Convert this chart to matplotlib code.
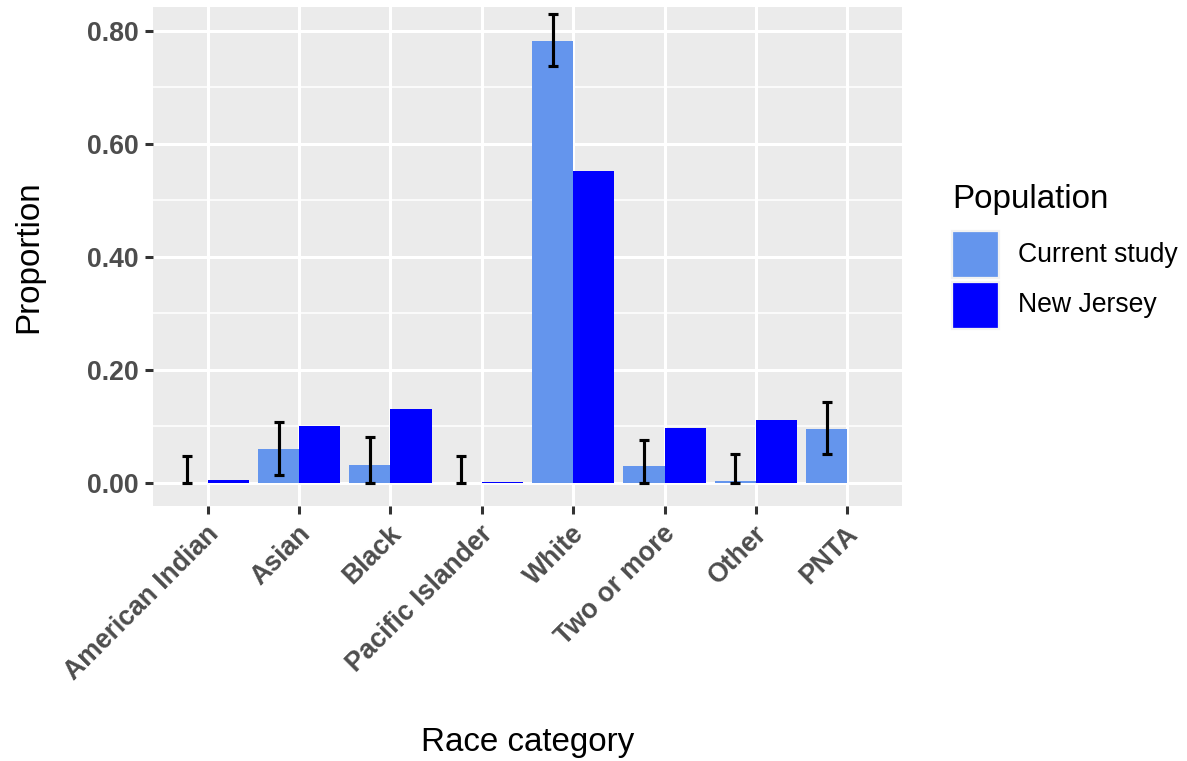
import numpy as np
import matplotlib
matplotlib.use('Agg')
import matplotlib.pyplot as plt
import matplotlib.transforms as mtransforms
from matplotlib.patches import Rectangle
from matplotlib.ticker import FixedLocator, FormatStrFormatter

# proportions by race category
categories = ['American Indian', 'Asian', 'Black', 'Pacific Islander',
              'White', 'Two or more', 'Other', 'PNTA']
study_prop = [0.0, 0.060, 0.032, 0.0, 0.782, 0.029, 0.004, 0.095]
study_lower = [0.0, 0.014, 0.0, 0.0, 0.737, 0.0, 0.0, 0.051]
study_upper = [0.047, 0.108, 0.081, 0.047, 0.829, 0.076, 0.051, 0.143]
nj_prop = [0.005, 0.101, 0.130, 0.001, 0.551, 0.097, 0.112, np.nan]

series_names = ['Current study', 'New Jersey']
series_colors = ['#6495ED', '#0000FF']

W, H, DPI = 1187, 761, 204
plt.rcParams['font.family'] = ['Liberation Sans', 'DejaVu Sans']
TICK_FS, TITLE_FS = 9.4, 11.7


def fx(px):
    return px / W


def fy(py):
    return 1 - py / H


fig = plt.figure(figsize=(W / DPI, H / DPI), dpi=DPI)
ax = fig.add_axes([fx(153), fy(506), fx(902 - 153), (506 - 7) / H])
ax.set_facecolor('#EBEBEB')
for s in ax.spines.values():
    s.set_visible(False)

x = np.arange(1, len(categories) + 1)
bw = 0.45
ax.bar(x - bw / 2, study_prop, width=bw, color=series_colors[0], zorder=3)
ax.bar(x + bw / 2, nj_prop, width=bw, color=series_colors[1], zorder=3)

sp = np.array(study_prop)
yerr = [sp - np.array(study_lower), np.array(study_upper) - sp]
ax.errorbar(x - bw / 2, sp, yerr=yerr, fmt='none', ecolor='black',
            elinewidth=1.1, capsize=1.6, capthick=1.1, zorder=4)

ax.set_xlim(0.4, 8.6)
ax.set_ylim(-0.041, 0.842)

ax.yaxis.set_major_locator(FixedLocator([0, 0.2, 0.4, 0.6, 0.8]))
ax.yaxis.set_minor_locator(FixedLocator([0.1, 0.3, 0.5, 0.7]))
ax.yaxis.set_major_formatter(FormatStrFormatter('%.2f'))
ax.set_xticks(x)
ax.set_xticklabels(categories, rotation=45, ha='right', va='center',
                   rotation_mode='anchor')

ax.grid(True, which='major', color='white', linewidth=1.07, zorder=0)
ax.grid(True, which='minor', axis='y', color='white', linewidth=0.53, zorder=0)
ax.set_axisbelow(True)

ax.tick_params(axis='both', which='major', length=2.75, width=1.07,
               color='#333333', labelcolor='#4D4D4D', labelsize=TICK_FS, pad=2.2)
ax.tick_params(axis='x', which='major', pad=7.5)
ax.tick_params(axis='y', which='minor', length=0)
for lbl in ax.get_xticklabels() + ax.get_yticklabels():
    lbl.set_fontweight('bold')

# nudge the rotated category labels so their ends sit just right of the ticks
shift = mtransforms.ScaledTranslation(7 / DPI, 5 / DPI, fig.dpi_scale_trans)
for lbl in ax.get_xticklabels():
    lbl.set_transform(lbl.get_transform() + shift)

ax.set_xlabel('Race category', fontsize=TITLE_FS, color='black', va='center')
ax.set_ylabel('Proportion', fontsize=TITLE_FS, color='black', va='center')
ax.xaxis.set_label_coords(0.5, -(742 - 506) / (506 - 7))
ax.yaxis.set_label_coords(-(153 - 29) / (902 - 153), 0.5)

# legend
fig.text(fx(952), fy(208), 'Population', fontsize=TITLE_FS, ha='left',
         va='baseline')
key_top = [231, 282]
for top, name, color in zip(key_top, series_names, series_colors):
    fig.add_artist(Rectangle((fx(952), fy(top + 47)), fx(47), 47 / H,
                             transform=fig.transFigure, facecolor=color,
                             edgecolor='#F2F2F2', linewidth=0.8))
    fig.text(fx(1018), fy(top + 23.5), name, fontsize=TICK_FS, ha='left',
             va='center')

fig.savefig('out.png', dpi=DPI)
